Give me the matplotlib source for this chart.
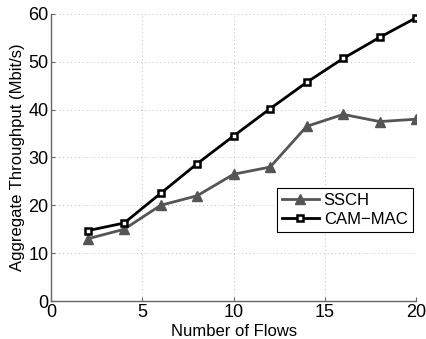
import matplotlib
matplotlib.use("Agg")
import matplotlib.pyplot as plt

flows = [2, 4, 6, 8, 10, 12, 14, 16, 18, 20]
ssch = [13.0, 15.0, 20.0, 22.0, 26.5, 28.0, 36.5, 39.0, 37.5, 38.0]
cam_mac = [14.7, 16.3, 22.5, 28.7, 34.5, 40.2, 45.7, 50.7, 55.1, 59.2]

plt.rcParams['font.family'] = ['Liberation Sans', 'DejaVu Sans']

fig = plt.figure(figsize=(4.26, 3.39), dpi=100)
ax = fig.add_axes([0.120, 0.112, 0.857, 0.847])

ax.plot(flows, ssch, color='#555555', lw=2, marker='^', ms=6.5,
        mfc='#555555', mec='#555555', label='SSCH')
ax.plot(flows, cam_mac, color='black', lw=2, marker='s', ms=5,
        mfc='white', mec='black', mew=1.8, label='CAM\u2212MAC')

ax.set_xlim(0, 20)
ax.set_ylim(0, 60)
ax.set_xticks([0, 5, 10, 15, 20])
ax.set_yticks([0, 10, 20, 30, 40, 50, 60])
ax.grid(True, linestyle=(0, (1, 3)), color='#bbbbbb', lw=0.7)

for s in ('top', 'right'):
    ax.spines[s].set_visible(False)
for s in ('left', 'bottom'):
    ax.spines[s].set_color('#666666')
    ax.spines[s].set_linewidth(1.0)

ax.tick_params(direction='in', length=3, color='#666666', labelsize=13, pad=2)
ax.set_xlabel('Number of Flows', fontsize=12, labelpad=2)
ax.set_ylabel('Aggregate Throughput (Mbit/s)', fontsize=12, labelpad=2)

leg = ax.legend(loc='upper left', bbox_to_anchor=(0.619, 0.394), fontsize=12,
                fancybox=False, framealpha=1, edgecolor='black',
                handlelength=2.2, borderpad=0.3, labelspacing=0.25,
                handletextpad=0.3, borderaxespad=0)
leg.get_frame().set_linewidth(0.8)

fig.savefig('out.png', dpi=100)
